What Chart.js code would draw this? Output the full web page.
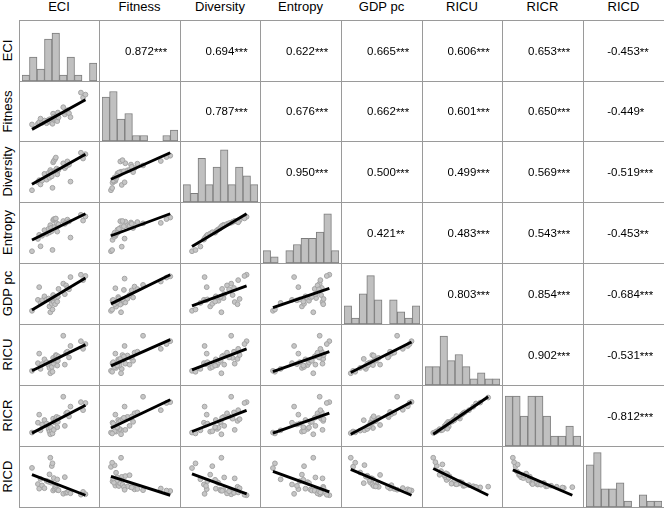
<!DOCTYPE html>
<html><head><meta charset="utf-8">
<script src="https://cdn.jsdelivr.net/npm/chart.js@4/dist/chart.umd.min.js"></script>
<style>
html,body{margin:0;padding:0;background:#fff;}
body{width:664px;height:508px;position:relative;overflow:hidden;font-family:"Liberation Sans",Arial,sans-serif;color:#000;}
canvas{position:absolute;display:block;}
.hdr{position:absolute;font-size:13px;line-height:15px;height:15px;text-align:center;white-space:nowrap;}
.rlab{position:absolute;font-size:13px;line-height:15px;height:15px;text-align:center;white-space:nowrap;transform:rotate(-90deg);}
.corr{position:absolute;font-size:11.5px;line-height:14px;height:14px;text-align:center;white-space:nowrap;}
.corr .num{position:relative;}
.corr .st{position:absolute;left:100%;top:0;}
.vl{position:absolute;width:1px;background:#9a9a9a;}
.hl{position:absolute;height:1px;background:#9a9a9a;}
</style></head><body>
<script>
// ---- Data (in panel-relative units) ----
const varNames = ["ECI","Fitness","Diversity","Entropy","GDP pc","RICU","RICR","RICD"];
const eci       = [11.4,19.9,21.7,23.6,25.8,29.2,32.3,35.1,36.4,37.6,38.7,39.7,40.7,41.6,42.6,43.5,44.5,45.5,46.5,47.5,48.4,49.3,56.1,58.3,60.2,62.0,64.3,66.4,81.3,84.4,87.8];
const fitness   = [9.8,12,16,25,14,20,13,22,17,24,19,15,11.5,38,30,21,23,26,33,18.5,41,28,55,36,43,47,39,29,93.3,80,88];
const diversity = [10,27,31,22,30,44,32,46,36,52,48,39,15,68,71,50,75,78,55,43,51,53,66,56,60,70,63,28,88,76,85];
const entropy   = [11.2,38,47,22,45,57,49,60,52,68,62,55,14,79,81,64,82,82.5,72,54,66,70,77,71,74,80,76,41,90.6,78,87];
const gdppc     = [10,35,64,28,34,43,36,38,20,6.7,33,26,13,46,30,40,25,37,39,31,42,60,72,48,68,62,59,87,92.3,80,89.5];
const ricu      = [14,30,50,18,28,38,32,26,20,8.9,31,22,12,41,29,36,39,47,46,25,35,44,87.4,27,52,54,42,66,76,60,70];
const ricr      = [12,34,52,17,30,40,32,20,14,8.2,23,15,10,43,18,35,38,42,47,24,36,45,92,27,55,57,48,70,80,62,78];
const ricd      = [68,33,23,44,30,24,40,38,54,90,36,72,78,19,46,22,28,25,21,43,20,19.5,12,48,14,15,18.5,13,10,16,11];

// histogram counts (10 bins each, read from the diagonal)
const histECI       = [1,4,2,7,8,1,4,1,0,3];
const histFitness   = [8,9,4,5,1,1,0,0,1,2];
const histDiversity = [2,1,5,2,4,6,2,4,3,2];
const histEntropy   = [2,1,0,2,3,4,4,5,8,2];
const histGDP       = [3,1,5,8,4,0,4,2,1,3];
const histRICU      = [3,3,8,4,5,3,1,2,1,1];
const histRICR      = [5,5,3,5,5,3,1,1,2,1];
const histRICD      = [7,9,3,3,4,1,0,2,1,1];

// correlation coefficients (upper triangle, by row) and significance stars
const corrECI       = [0.872,0.694,0.622,0.665,0.606,0.653,-0.453];
const starsECI      = ["***","***","***","***","***","***","**"];
const corrFitness   = [0.787,0.676,0.662,0.601,0.650,-0.449];
const starsFitness  = ["***","***","***","***","***","*"];
const corrDiversity = [0.950,0.500,0.499,0.569,-0.519];
const starsDiversity= ["***","***","***","***","***"];
const corrEntropy   = [0.421,0.483,0.543,-0.453];
const starsEntropy  = ["**","***","***","**"];
const corrGDP       = [0.803,0.854,-0.684];
const starsGDP      = ["***","***","***"];
const corrRICU      = [0.902,-0.531];
const starsRICU     = ["***","***"];
const corrRICR      = [-0.812];
const starsRICR     = ["***"];

// ---- assembly ----
const series = [eci,fitness,diversity,entropy,gdppc,ricu,ricr,ricd];
const hists = [histECI,histFitness,histDiversity,histEntropy,histGDP,histRICU,histRICR,histRICD];
const corrs = [corrECI,corrFitness,corrDiversity,corrEntropy,corrGDP,corrRICU,corrRICR];
const stars = [starsECI,starsFitness,starsDiversity,starsEntropy,starsGDP,starsRICU,starsRICR];
const histTop = [10.2,10.9,7.0,9.9,10.1,10.0,6.1,10.1];

const colEdges = [19,99,180,260,341,422,502,583,664];
const rowEdges = [20,81,141,202,263,324,385,446,507];

const body = document.body;
function el(tag, cls, css){ const e=document.createElement(tag); if(cls) e.className=cls; Object.assign(e.style, css||{}); body.appendChild(e); return e; }

const baseOpts = {
  responsive:false, animation:false, events:[],
  plugins:{legend:{display:false}, tooltip:{enabled:false}}
};

function lsFit(xs, ys){
  const n = xs.length; let mx=0,my=0; for(let i=0;i<n;i++){mx+=xs[i];my+=ys[i];} mx/=n; my/=n;
  let sxx=0,sxy=0; for(let i=0;i<n;i++){sxx+=(xs[i]-mx)**2; sxy+=(xs[i]-mx)*(ys[i]-my);}
  const b = sxy/sxx; return {a: my-b*mx, b};
}

function mkCanvas(r,c){
  const x0=colEdges[c], x1=colEdges[c+1], y0=rowEdges[r], y1=rowEdges[r+1];
  const cv = el('canvas','',{left:x0+'px',top:y0+'px'});
  cv.width = x1-x0; cv.height = y1-y0;
  cv.style.width = (x1-x0)+'px'; cv.style.height=(y1-y0)+'px';
  return cv;
}

for(let r=0;r<8;r++){
  for(let c=0;c<8;c++){
    if(r===c){
      const cv = mkCanvas(r,c);
      new Chart(cv, {
        type:'bar',
        data:{labels:hists[r].map((_,i)=>String(i+1)), datasets:[{data:hists[r], backgroundColor:'#c0c0c0', borderColor:'#7c7c7c', borderWidth:1, borderSkipped:false, barPercentage:1, categoryPercentage:1}]},
        options:Object.assign({}, baseOpts, {
          layout:{padding:{left:3,right:2,top:0,bottom:0}},
          scales:{x:{display:false}, y:{display:false, min:0, max:histTop[r]}}
        })
      });
    } else if(r>c){
      const xs = series[c], ys = series[r];
      const f = lsFit(xs, ys);
      const xmin = Math.min(...xs), xmax = Math.max(...xs);
      const l0 = f.a+f.b*xmin, l1 = f.a+f.b*xmax;
      const lo = Math.min(...ys, l0, l1), hi = Math.max(...ys, l0, l1);
      const pad = 0.18*(hi-lo);
      const cv = mkCanvas(r,c);
      new Chart(cv, {
        type:'scatter',
        data:{datasets:[
          {type:'line', data:[{x:xmin,y:l0},{x:xmax,y:l1}], borderColor:'#000', borderWidth:2.9, pointRadius:0, fill:false, order:0, clip:0},
          {type:'scatter', data:xs.map((x,i)=>({x, y:ys[i]})), pointRadius:2.4, pointBackgroundColor:'#c6c6c6', pointBorderColor:'#a4a4a4', pointBorderWidth:1, order:1}
        ]},
        options:Object.assign({}, baseOpts, {
          layout:{padding:0},
          scales:{x:{type:'linear', display:false, min:0, max:100}, y:{type:'linear', display:false, min:lo-pad, max:hi+pad}}
        })
      });
    } else {
      const cx = (colEdges[c]+colEdges[c+1])/2, cy=(rowEdges[r]+rowEdges[r+1])/2;
      const v = corrs[r][c-r-1], s = stars[r][c-r-1];
      const d = el('div','corr',{left:(cx-50)+'px', top:(cy-7)+'px', width:'100px'});
      const n = document.createElement('span'); n.className='num'; n.textContent = v.toFixed(3);
      const st = document.createElement('span'); st.className='st'; st.textContent = s;
      n.appendChild(st); d.appendChild(n);
    }
  }
}

// headers and row labels
for(let i=0;i<8;i++){
  const cx=(colEdges[i]+colEdges[i+1])/2;
  const h = el('div','hdr',{left:(cx-40)+'px', top:'-1px', width:'80px'}); h.textContent = varNames[i];
  const cy=(rowEdges[i]+rowEdges[i+1])/2;
  const rl = el('div','rlab',{left:(6.5-30)+'px', top:(cy-7.5)+'px', width:'60px'}); rl.textContent = varNames[i];
}
// panel frame lines
for(let i=0;i<8;i++){ el('div','vl',{left:colEdges[i]+'px', top:rowEdges[0]+'px', height:(rowEdges[8]-rowEdges[0])+'px'}); }
for(let i=0;i<=8;i++){ el('div','hl',{left:colEdges[0]+'px', top:rowEdges[i]+'px', width:(colEdges[8]-colEdges[0])+'px'}); }
</script>
</body></html>
